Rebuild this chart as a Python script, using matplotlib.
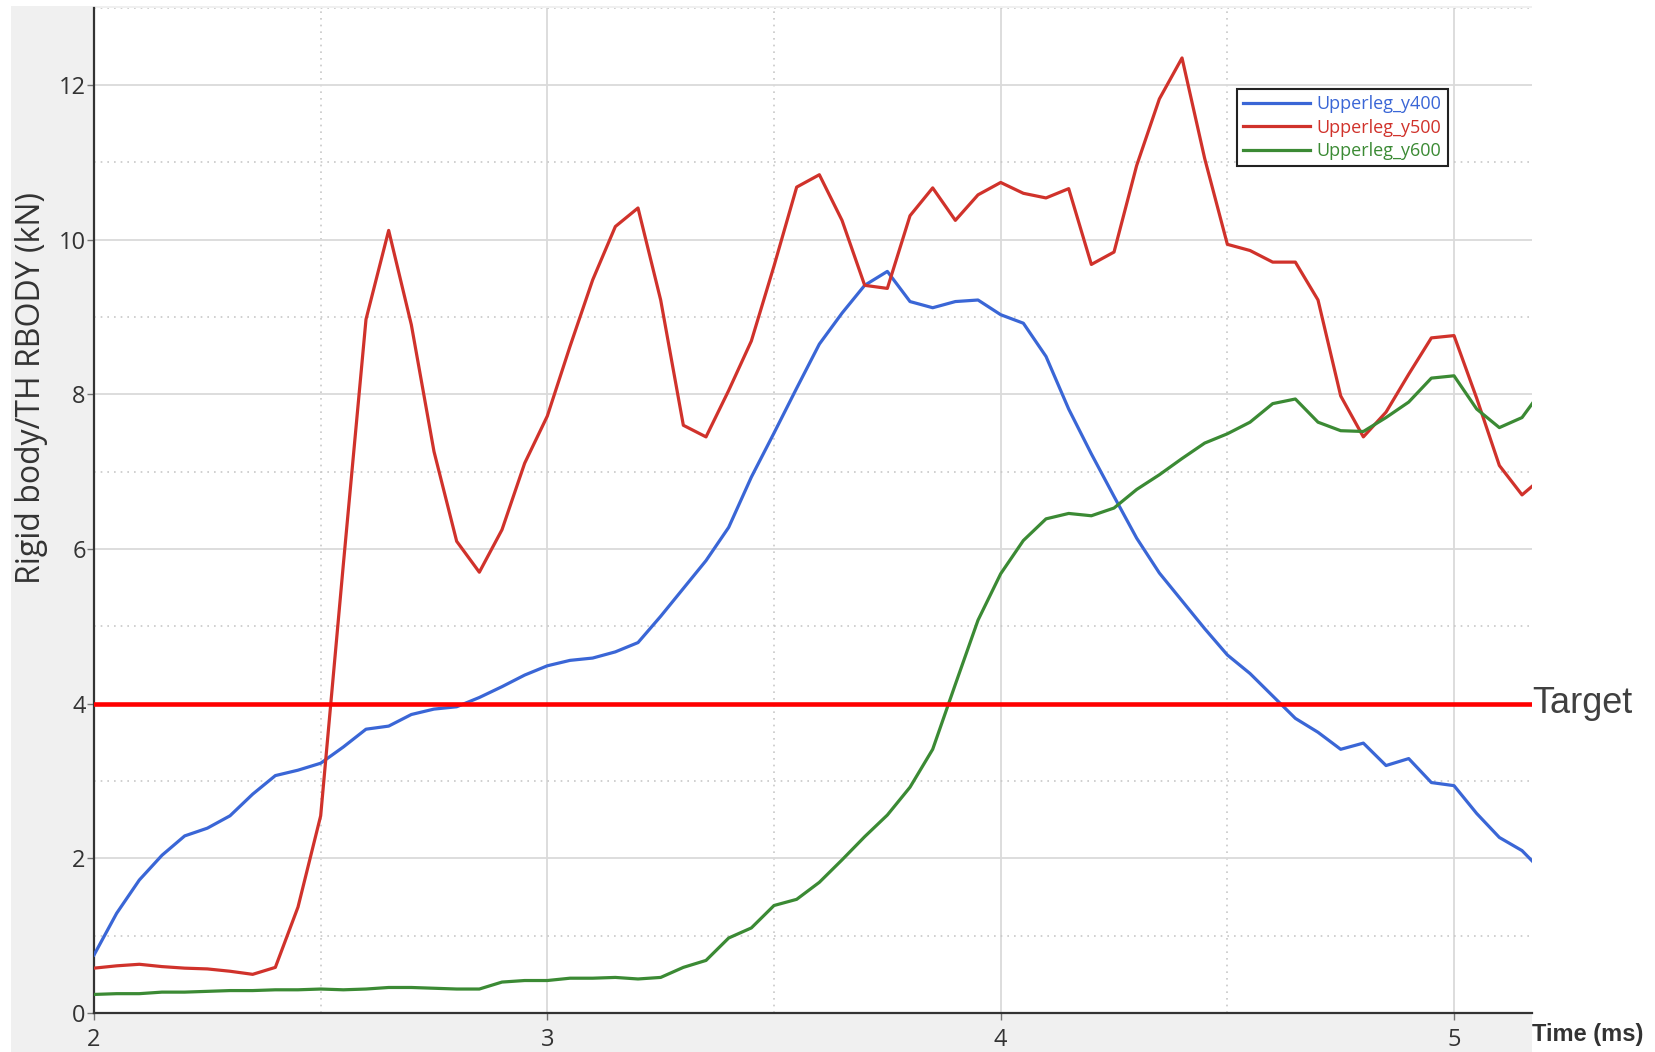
"""
Rigid body force at the upper leg for three y-positions, against a 4 kN target.
"""

import matplotlib

matplotlib.use("Agg")
import matplotlib.pyplot as plt
import matplotlib.transforms as mtransforms
from matplotlib.patches import Rectangle
from matplotlib.ticker import MultipleLocator

# %%
# Data (sampled every 0.05 ms)

time_ms = [
    2.00, 2.05, 2.10, 2.15, 2.20, 2.25, 2.30, 2.35, 2.40, 2.45,
    2.50, 2.55, 2.60, 2.65, 2.70, 2.75, 2.80, 2.85, 2.90, 2.95,
    3.00, 3.05, 3.10, 3.15, 3.20, 3.25, 3.30, 3.35, 3.40, 3.45,
    3.50, 3.55, 3.60, 3.65, 3.70, 3.75, 3.80, 3.85, 3.90, 3.95,
    4.00, 4.05, 4.10, 4.15, 4.20, 4.25, 4.30, 4.35, 4.40, 4.45,
    4.50, 4.55, 4.60, 4.65, 4.70, 4.75, 4.80, 4.85, 4.90, 4.95,
    5.00, 5.05, 5.10, 5.15, 5.20,
]

upperleg_y400 = [
    0.75, 1.29, 1.72, 2.04, 2.29, 2.39, 2.55, 2.83, 3.07, 3.14,
    3.23, 3.44, 3.67, 3.71, 3.86, 3.93, 3.96, 4.08, 4.22, 4.37,
    4.49, 4.56, 4.59, 4.67, 4.79, 5.13, 5.49, 5.85, 6.28, 6.93,
    7.50, 8.08, 8.65, 9.05, 9.41, 9.59, 9.20, 9.12, 9.20, 9.22,
    9.03, 8.92, 8.49, 7.81, 7.23, 6.68, 6.14, 5.69, 5.33, 4.97,
    4.63, 4.39, 4.10, 3.81, 3.63, 3.41, 3.49, 3.20, 3.29, 2.98,
    2.94, 2.58, 2.27, 2.10, 1.80,
]

upperleg_y500 = [
    0.58, 0.61, 0.63, 0.60, 0.58, 0.57, 0.54, 0.50, 0.59, 1.37,
    2.55, 5.80, 8.97, 10.12, 8.90, 7.26, 6.10, 5.70, 6.25, 7.11,
    7.72, 8.62, 9.48, 10.17, 10.41, 9.22, 7.60, 7.45, 8.05, 8.69,
    9.66, 10.68, 10.84, 10.25, 9.41, 9.37, 10.31, 10.67, 10.25, 10.58,
    10.74, 10.60, 10.54, 10.66, 9.68, 9.84, 10.96, 11.82, 12.35, 11.05,
    9.94, 9.86, 9.71, 9.71, 9.22, 7.98, 7.45, 7.77, 8.26, 8.73,
    8.76, 7.95, 7.08, 6.70, 6.95,
]

upperleg_y600 = [
    0.24, 0.25, 0.25, 0.27, 0.27, 0.28, 0.29, 0.29, 0.30, 0.30,
    0.31, 0.30, 0.31, 0.33, 0.33, 0.32, 0.31, 0.31, 0.40, 0.42,
    0.42, 0.45, 0.45, 0.46, 0.44, 0.46, 0.59, 0.68, 0.97, 1.10,
    1.39, 1.47, 1.69, 1.98, 2.28, 2.56, 2.92, 3.41, 4.25, 5.08,
    5.68, 6.11, 6.39, 6.46, 6.43, 6.53, 6.77, 6.96, 7.17, 7.37,
    7.49, 7.64, 7.88, 7.94, 7.64, 7.53, 7.52, 7.70, 7.90, 8.21,
    8.24, 7.81, 7.57, 7.70, 8.10,
]

target_kn = 4

series = {
    "Upperleg_y400": (upperleg_y400, "#3a66d6"),
    "Upperleg_y500": (upperleg_y500, "#d0322b"),
    "Upperleg_y600": (upperleg_y600, "#3b8a34"),
}

# %%
# Figure

W, H = 1655, 1052
fig = plt.figure(figsize=(W / 100, H / 100), dpi=100, facecolor="white")

# grey panel behind the plot area
fig.patches.append(
    Rectangle((11 / W, 0), (1532 - 11) / W, (H - 6) / H,
              transform=fig.transFigure, facecolor="#f0f0f0",
              edgecolor="none", zorder=-10)
)

ax = fig.add_axes([94 / W, (H - 1013) / H, (1532 - 94) / W, (1013 - 7.7) / H])
ax.set_facecolor("white")

for name, (values, color) in series.items():
    ax.plot(time_ms, values, color=color, lw=2.3, label=name, zorder=3)

ax.axhline(target_kn, color="#ff0000", lw=3.3, zorder=4)
trans = mtransforms.blended_transform_factory(ax.transAxes, ax.transData)
ax.text(1.0, target_kn, "Target", transform=trans, ha="left", va="center",
        fontsize=26, color="#404040", family="Liberation Sans", clip_on=False)

ax.set_xlim(2, 5.172)
ax.set_ylim(0, 13)
ax.xaxis.set_major_locator(MultipleLocator(1))
ax.xaxis.set_minor_locator(MultipleLocator(0.5))
ax.yaxis.set_major_locator(MultipleLocator(2))
ax.yaxis.set_minor_locator(MultipleLocator(1))

ax.grid(which="major", color="#dadada", lw=1.3, zorder=1)
ax.grid(which="minor", color="#c8c8c8", lw=1.2, ls=(0, (1, 3)), zorder=1)

for side in ("top", "right"):
    ax.spines[side].set_visible(False)
for side in ("left", "bottom"):
    ax.spines[side].set_color("#333333")
    ax.spines[side].set_linewidth(1.6)

ax.tick_params(which="major", length=5, width=1, color="#777777",
               labelsize=17, labelcolor="#333333")
ax.tick_params(axis="y", pad=1)
ax.tick_params(axis="x", pad=6)
ax.tick_params(which="minor", length=0)
for lbl in ax.get_xticklabels() + ax.get_yticklabels():
    lbl.set_family("Open Sans")

# the y title sits above the axis centre in the original, so place it by hand
fig.text(31.7 / W, 1 - 388.5 / H, "Rigid body/TH RBODY (kN)", rotation=90,
         ha="center", va="center", fontsize=23, color="#333333",
         family="Open Sans")
fig.text(1532 / W, 1 - 1035 / H, "Time (ms)", ha="left", va="center",
         fontsize=17, fontweight="bold", color="#333333",
         family="Liberation Sans")

leg = ax.legend(loc="upper left", bbox_to_anchor=(1237 / W, 1 - 89 / H),
                bbox_transform=fig.transFigure, borderaxespad=0,
                fancybox=False, frameon=True, framealpha=1,
                edgecolor="#222222", handlelength=3.7, handletextpad=0.35,
                labelspacing=0.3, borderpad=0.35,
                prop={"family": "Open Sans", "size": 13})
leg.get_frame().set_linewidth(1.5)
for text, (_, color) in zip(leg.get_texts(), series.values()):
    text.set_color(color)

fig.savefig("out.png", dpi=100)
